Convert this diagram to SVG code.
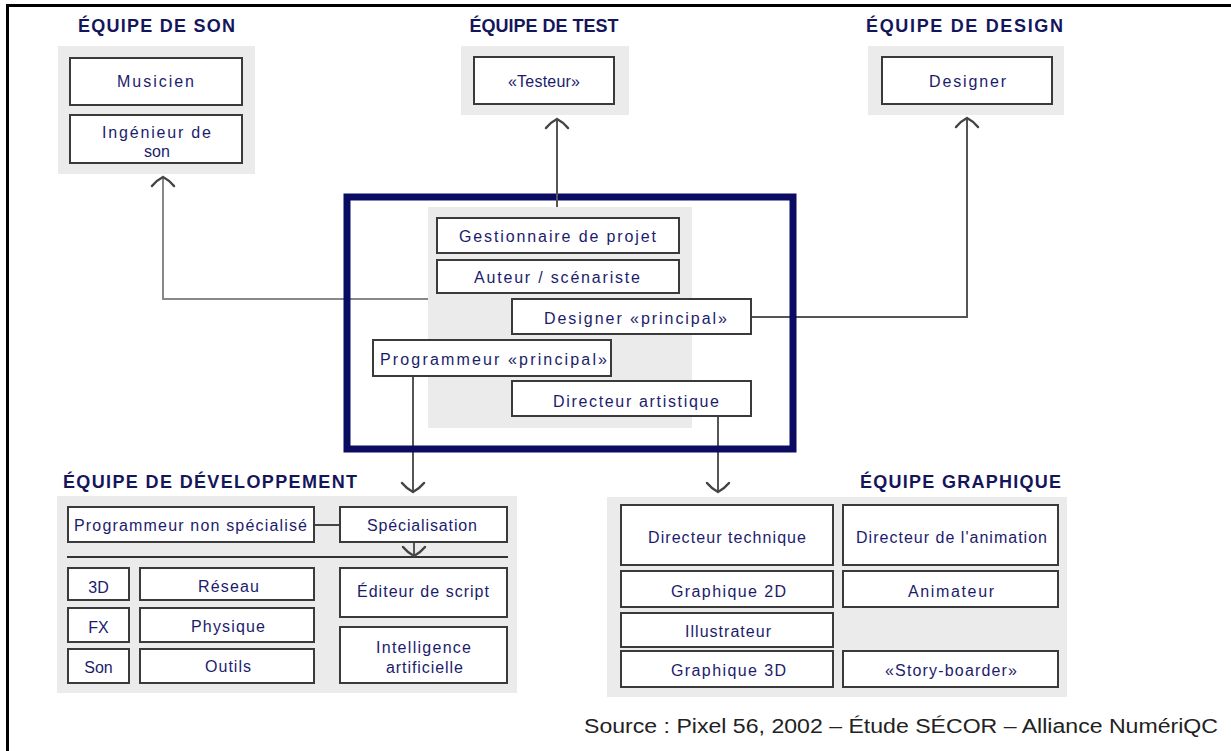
<svg xmlns="http://www.w3.org/2000/svg" width="1231" height="751" viewBox="0 0 1231 751">
<style>
.bg{fill:#ebebeb}
.box{fill:#fff;stroke:#3a3a3a;stroke-width:2}
.lbl{font-family:"Liberation Sans",Arial,sans-serif;font-size:16px;fill:#1c1c6c}
.mid{text-anchor:middle}
.ttl{font-family:"Liberation Sans",Arial,sans-serif;font-size:18px;font-weight:bold;fill:#15155c}
.src{font-family:"Liberation Sans",Arial,sans-serif;font-size:20px;fill:#222}
.con{fill:none;stroke:#555;stroke-width:2}
.lite{fill:none;stroke:#888;stroke-width:2}
</style>
<defs>
<marker id="arr" markerUnits="userSpaceOnUse" orient="auto" markerWidth="1" markerHeight="1" refX="0" refY="0" overflow="visible">
<path d="M-9,-11 Q-3,-6 0,0 Q-3,6 -9,11" fill="none" stroke="#444" stroke-width="2.5" stroke-linecap="round"/>
</marker>
</defs>
<rect width="1231" height="751" fill="#fff"/>
<g id="frame">
<line x1="6" y1="5.5" x2="1231" y2="5.5" stroke="#000" stroke-width="3"/>
<line x1="7.5" y1="4" x2="7.5" y2="751" stroke="#000" stroke-width="3"/>
</g>
<g id="connectors">
<polyline class="lite" points="428,299 163,299 163,177" marker-end="url(#arr)"/>
<polyline class="con" points="557,207 557,119" marker-end="url(#arr)"/>
<polyline class="con" points="751,317 967,317 967,118" marker-end="url(#arr)"/>
<polyline class="con" points="413,376 413,492" marker-end="url(#arr)"/>
<polyline class="con" points="718,416 718,492" marker-end="url(#arr)"/>
</g>
<g id="equipe-son">
<text class="ttl" x="78" y="32" textLength="157" lengthAdjust="spacing">ÉQUIPE DE SON</text>
<rect class="bg" x="58" y="46" width="197" height="128"/>
<g id="musicien"><rect class="box" x="70" y="58" width="172" height="47"/><text class="lbl" x="117" y="87" textLength="77" lengthAdjust="spacing">Musicien</text></g>
<g id="ingenieur"><rect class="box" x="70" y="115" width="172" height="48"/><text class="lbl" x="102" y="138" textLength="109" lengthAdjust="spacing">Ingénieur de</text><text class="lbl mid" x="157" y="157">son</text></g>
</g>
<g id="equipe-test">
<text class="ttl mid" x="544" y="32">ÉQUIPE DE TEST</text>
<rect class="bg" x="461" y="46" width="168" height="69"/>
<g id="testeur"><rect class="box" x="474" y="57" width="140" height="47"/><text class="lbl" x="508" y="87" textLength="72" lengthAdjust="spacing">«Testeur»</text></g>
</g>
<g id="equipe-design">
<text class="ttl" x="866" y="32" textLength="197" lengthAdjust="spacing">ÉQUIPE DE DESIGN</text>
<rect class="bg" x="868" y="46" width="196" height="69"/>
<g id="designer"><rect class="box" x="882" y="57" width="170" height="47"/><text class="lbl" x="929" y="87" textLength="77" lengthAdjust="spacing">Designer</text></g>
</g>
<g id="noyau">
<rect x="347" y="197" width="446" height="252" fill="none" stroke="#0b0b62" stroke-width="7"/>
<rect class="bg" x="428" y="207" width="264" height="221"/>
<line x1="557" y1="193" x2="557" y2="207" stroke="#555" stroke-width="2"/>
<g id="gestionnaire"><rect class="box" x="437" y="218" width="242" height="35"/><text class="lbl" x="459" y="242" textLength="197" lengthAdjust="spacing">Gestionnaire de projet</text></g>
<g id="auteur"><rect class="box" x="437" y="260" width="242" height="33"/><text class="lbl" x="474" y="283" textLength="166" lengthAdjust="spacing">Auteur / scénariste</text></g>
<g id="designer-principal"><rect class="box" x="512" y="299" width="239" height="35"/><text class="lbl" x="544" y="324" textLength="183" lengthAdjust="spacing">Designer «principal»</text></g>
<g id="programmeur-principal"><rect class="box" x="373" y="340" width="238" height="36"/><text class="lbl" x="380" y="365" textLength="227" lengthAdjust="spacing">Programmeur «principal»</text></g>
<g id="directeur-artistique"><rect class="box" x="512" y="381" width="239" height="35"/><text class="lbl" x="553" y="407" textLength="166" lengthAdjust="spacing">Directeur artistique</text></g>
</g>
<g id="equipe-dev">
<text class="ttl" x="63" y="488" textLength="294" lengthAdjust="spacing">ÉQUIPE DE DÉVELOPPEMENT</text>
<rect class="bg" x="57" y="496" width="460" height="197"/>
<line x1="314" y1="525" x2="340" y2="525" stroke="#444" stroke-width="2"/>
<line x1="67" y1="557" x2="508" y2="557" stroke="#333" stroke-width="2"/>
<polyline class="con" points="414,542 414,556" marker-end="url(#arr)"/>
<g id="prog-non-spec"><rect class="box" x="68" y="507" width="246" height="35"/><text class="lbl" x="74" y="531" textLength="233" lengthAdjust="spacing">Programmeur non spécialisé</text></g>
<g id="specialisation"><rect class="box" x="340" y="507" width="167" height="35"/><text class="lbl" x="367" y="531" textLength="110" lengthAdjust="spacing">Spécialisation</text></g>
<g id="d3"><rect class="box" x="68" y="568" width="61" height="32"/><text class="lbl mid" x="98.5" y="593">3D</text></g>
<g id="reseau"><rect class="box" x="140" y="568" width="174" height="32"/><text class="lbl" x="198" y="592" textLength="61" lengthAdjust="spacing">Réseau</text></g>
<g id="fx"><rect class="box" x="68" y="608" width="61" height="34"/><text class="lbl mid" x="98.5" y="633">FX</text></g>
<g id="physique"><rect class="box" x="140" y="608" width="174" height="34"/><text class="lbl" x="191" y="632" textLength="74" lengthAdjust="spacing">Physique</text></g>
<g id="son"><rect class="box" x="68" y="649" width="61" height="34"/><text class="lbl mid" x="98.5" y="673">Son</text></g>
<g id="outils"><rect class="box" x="140" y="649" width="174" height="34"/><text class="lbl" x="205" y="672" textLength="46" lengthAdjust="spacing">Outils</text></g>
<g id="editeur"><rect class="box" x="340" y="568" width="167" height="49"/><text class="lbl" x="357" y="597" textLength="132" lengthAdjust="spacing">Éditeur de script</text></g>
<g id="ia"><rect class="box" x="340" y="627" width="167" height="56"/><text class="lbl" x="376" y="653" textLength="95" lengthAdjust="spacing">Intelligence</text><text class="lbl" x="386" y="673" textLength="77" lengthAdjust="spacing">artificielle</text></g>
</g>
<g id="equipe-graphique">
<text class="ttl" x="860" y="488" textLength="201" lengthAdjust="spacing">ÉQUIPE GRAPHIQUE</text>
<rect class="bg" x="607" y="497" width="460" height="200"/>
<g id="dir-tech"><rect class="box" x="621" y="505" width="212" height="60"/><text class="lbl" x="648" y="543" textLength="158" lengthAdjust="spacing">Directeur technique</text></g>
<g id="dir-anim"><rect class="box" x="843" y="505" width="215" height="60"/><text class="lbl" x="856" y="543" textLength="191" lengthAdjust="spacing">Directeur de l'animation</text></g>
<g id="g2d"><rect class="box" x="621" y="571" width="212" height="36"/><text class="lbl" x="671" y="597" textLength="115" lengthAdjust="spacing">Graphique 2D</text></g>
<g id="animateur"><rect class="box" x="843" y="571" width="215" height="36"/><text class="lbl" x="908" y="597" textLength="86" lengthAdjust="spacing">Animateur</text></g>
<g id="illustrateur"><rect class="box" x="621" y="613" width="212" height="34"/><text class="lbl" x="685" y="637" textLength="86" lengthAdjust="spacing">Illustrateur</text></g>
<g id="g3d"><rect class="box" x="621" y="651" width="212" height="36"/><text class="lbl" x="671" y="676" textLength="115" lengthAdjust="spacing">Graphique 3D</text></g>
<g id="storyboarder"><rect class="box" x="843" y="651" width="215" height="36"/><text class="lbl" x="885" y="676" textLength="132" lengthAdjust="spacing">«Story-boarder»</text></g>
</g>
<text class="src" x="584" y="733" textLength="634" lengthAdjust="spacingAndGlyphs">Source : Pixel 56, 2002 – Étude SÉCOR – Alliance NumériQC</text>
</svg>
